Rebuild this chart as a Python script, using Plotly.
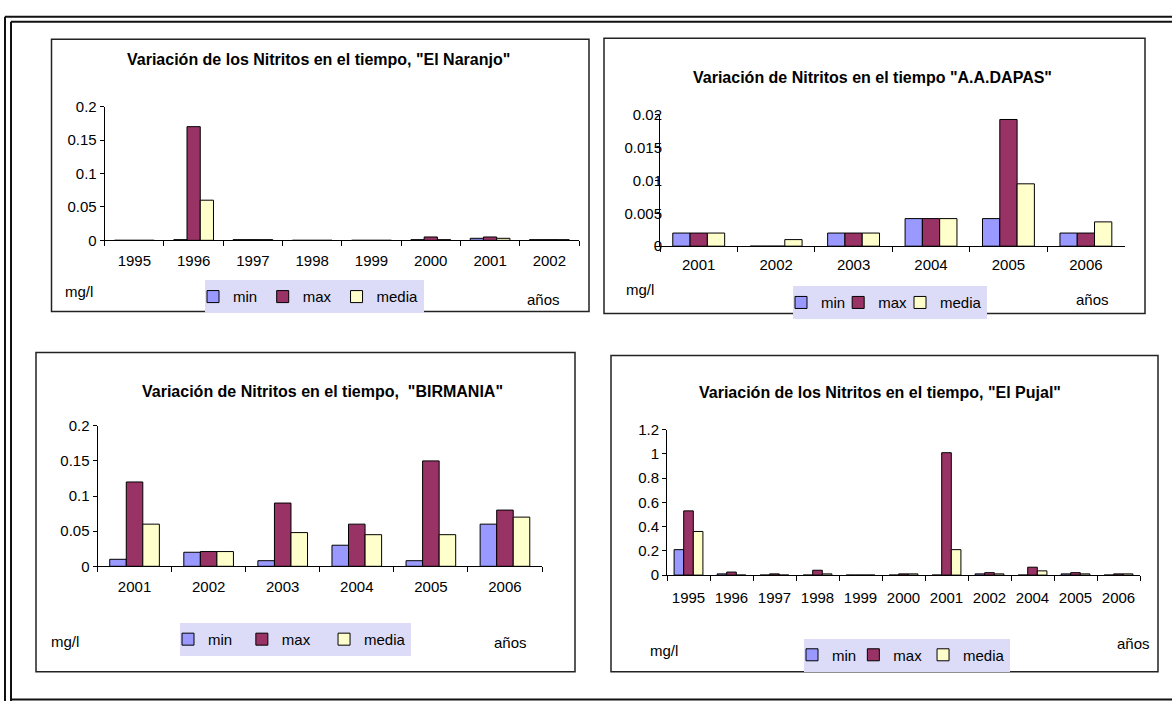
import plotly.graph_objects as go

W, H = 1172, 709

series_names = ["min", "max", "media"]
series_colors = ["#9999FF", "#993366", "#FFFFCC"]

naranjo_years = ["1995", "1996", "1997", "1998", "1999", "2000", "2001", "2002"]
naranjo_min = [0, 0.001, 0.001, 0, 0, 0.001, 0.003, 0.001]
naranjo_max = [0, 0.17, 0.001, 0, 0, 0.005, 0.005, 0.001]
naranjo_media = [0, 0.06, 0.001, 0, 0, 0.001, 0.003, 0.001]

dapas_years = ["2001", "2002", "2003", "2004", "2005", "2006"]
dapas_min = [0.002, 0, 0.002, 0.0042, 0.0042, 0.002]
dapas_max = [0.002, 0, 0.002, 0.0042, 0.0193, 0.002]
dapas_media = [0.002, 0.001, 0.002, 0.0042, 0.0095, 0.0037]

birmania_years = ["2001", "2002", "2003", "2004", "2005", "2006"]
birmania_min = [0.01, 0.02, 0.008, 0.03, 0.008, 0.06]
birmania_max = [0.12, 0.021, 0.09, 0.06, 0.15, 0.08]
birmania_media = [0.06, 0.021, 0.048, 0.045, 0.045, 0.07]

pujal_years = ["1995", "1996", "1997", "1998", "1999", "2000",
               "2001", "2002", "2004", "2005", "2006"]
pujal_min = [0.21, 0.01, 0, 0, 0, 0, 0, 0.01, 0, 0.01, 0]
pujal_max = [0.53, 0.025, 0.01, 0.04, 0, 0.01, 1.01, 0.02, 0.065, 0.02, 0.01]
pujal_media = [0.36, 0, 0, 0.01, 0, 0.01, 0.21, 0.01, 0.035, 0.01, 0.01]

FONT = "Liberation Sans, Arial, sans-serif"
LEGEND_BG = "#DCDCF8"
NBSP = "\u00a0"


def fx(x):
    return x / W


def fy(y):
    return 1 - y / H


# chart boxes in page pixels; "pad" widens legend entries like the original
panels = [
    dict(title='Variación de los Nitritos en el tiempo, "El Naranjo"',
         years=naranjo_years, data=[naranjo_min, naranjo_max, naranjo_media],
         ymax=0.2, dtick=0.05, ax=(104.7, 579), ay=(100, 237),
         box=(51.5, 31, 589, 310), title_at=(318, 52), legend_at=(205, 278),
         pad=[3, 3, 0], mg_at=(63, 289), anos_at=(525, 298), ystand=None, xstand=7),
    dict(title='Variación de Nitritos en el tiempo "A.A.DAPAS"',
         years=dapas_years, data=[dapas_min, dapas_max, dapas_media],
         ymax=0.02, dtick=0.005, ax=(660, 1124.6), ay=(108.5, 243),
         box=(604, 30, 1145, 312), title_at=(872, 70), legend_at=(793, 284),
         pad=[0, 0, 0], mg_at=(624, 287), anos_at=(1074, 298), ystand=-10, xstand=5),
    dict(title='Variación de Nitritos en el tiempo,  "BIRMANIA"',
         years=birmania_years, data=[birmania_min, birmania_max, birmania_media],
         ymax=0.2, dtick=0.05, ax=(97.5, 542), ay=(427, 571),
         box=(36, 352, 575, 679), title_at=(322, 392), legend_at=(180, 629),
         pad=[4, 5, 0], mg_at=(49, 648), anos_at=(492, 649), ystand=None, xstand=7),
    dict(title='Variación de los Nitritos en el tiempo, "El Pujal"',
         years=pujal_years, data=[pujal_min, pujal_max, pujal_media],
         ymax=1.2, dtick=0.2, ax=(667, 1140), ay=(431, 580),
         box=(611, 355, 1158, 679), title_at=(880, 393), legend_at=(804, 645),
         pad=[1, 2, 0], mg_at=(648, 657), anos_at=(1115, 650), ystand=None, xstand=9),
]

fig = go.Figure()
layout = {}
shapes = []
annotations = []

for i, p in enumerate(panels):
    n = "" if i == 0 else str(i + 1)
    leg = "legend" + n
    for name, vals, color, pad in zip(series_names, p["data"], series_colors, p["pad"]):
        fig.add_trace(go.Bar(
            x=p["years"], y=vals, name=name + NBSP * pad,
            marker=dict(color=color, line=dict(color="black", width=1)),
            xaxis="x" + n, yaxis="y" + n, legend=leg,
        ))

    layout["xaxis" + n] = dict(
        domain=[fx(p["ax"][0]), fx(p["ax"][1])], anchor="y" + n,
        type="category", range=[-0.5, len(p["years"]) - 0.5],
        showline=True, linecolor="black", linewidth=1,
        ticks="outside", tickson="boundaries", ticklen=5, tickcolor="black",
        ticklabelstandoff=p["xstand"],
        showgrid=False, tickfont=dict(size=15, color="black"),
    )
    yax = dict(
        domain=[fy(p["ay"][1]), fy(p["ay"][0])], anchor="x" + n,
        range=[0, p["ymax"]], tick0=0, dtick=p["dtick"],
        showline=True, linecolor="black", linewidth=1,
        ticks="outside", ticklen=4, tickcolor="black",
        showgrid=False, zeroline=False, tickfont=dict(size=15, color="black"),
    )
    if p["ystand"] is not None:
        yax["ticklabelstandoff"] = p["ystand"]
    layout["yaxis" + n] = yax

    layout[leg] = dict(
        x=fx(p["legend_at"][0]), y=fy(p["legend_at"][1]),
        xanchor="left", yanchor="top", orientation="h",
        indentation=-12,
        bgcolor=LEGEND_BG, font=dict(size=15, color="black"),
        itemclick=False, itemdoubleclick=False,
    )

    x0, y0, x1, y1 = p["box"]
    shapes.append(dict(type="rect", xref="paper", yref="paper",
                       x0=fx(x0), x1=fx(x1), y0=fy(y1), y1=fy(y0),
                       line=dict(color="#222222", width=1.5)))

    annotations.append(dict(text="<b>" + p["title"] + "</b>",
                            x=fx(p["title_at"][0]), y=fy(p["title_at"][1]),
                            xref="paper", yref="paper",
                            xanchor="center", yanchor="middle",
                            showarrow=False, font=dict(size=16, color="black")))
    annotations.append(dict(text="mg/l", x=fx(p["mg_at"][0]), y=fy(p["mg_at"][1]),
                            xref="paper", yref="paper",
                            xanchor="left", yanchor="middle",
                            showarrow=False, font=dict(size=15, color="black")))
    annotations.append(dict(text="años", x=fx(p["anos_at"][0]), y=fy(p["anos_at"][1]),
                            xref="paper", yref="paper",
                            xanchor="left", yanchor="middle",
                            showarrow=False, font=dict(size=15, color="black")))

# outer double frame (left and top doubled, bottom single)
for xl, yt in [(5, 8), (11, 13)]:
    shapes.append(dict(type="line", xref="paper", yref="paper",
                       x0=fx(xl), x1=fx(xl), y0=0, y1=fy(yt),
                       line=dict(color="#111111", width=2)))
    shapes.append(dict(type="line", xref="paper", yref="paper",
                       x0=fx(xl), x1=1, y0=fy(yt), y1=fy(yt),
                       line=dict(color="#111111", width=2)))
shapes.append(dict(type="line", xref="paper", yref="paper",
                   x0=fx(11), x1=1, y0=fy(707.5), y1=fy(707.5),
                   line=dict(color="#111111", width=2)))

fig.update_layout(
    width=W, height=H,
    margin=dict(l=0, r=0, t=0, b=0),
    paper_bgcolor="white", plot_bgcolor="white",
    font=dict(family=FONT, color="black"),
    barmode="group", bargap=0.33, bargroupgap=0,
    shapes=shapes, annotations=annotations,
    **layout,
)

# pin the chart to the top-left corner of the window
pin = ("document.body.style.margin='0';"
       "var d=document.getElementById('{plot_id}');"
       "d.style.position='fixed';d.style.left='0';d.style.top='0';")
fig.write_html("out.html", config={"displayModeBar": False}, post_script=pin)
